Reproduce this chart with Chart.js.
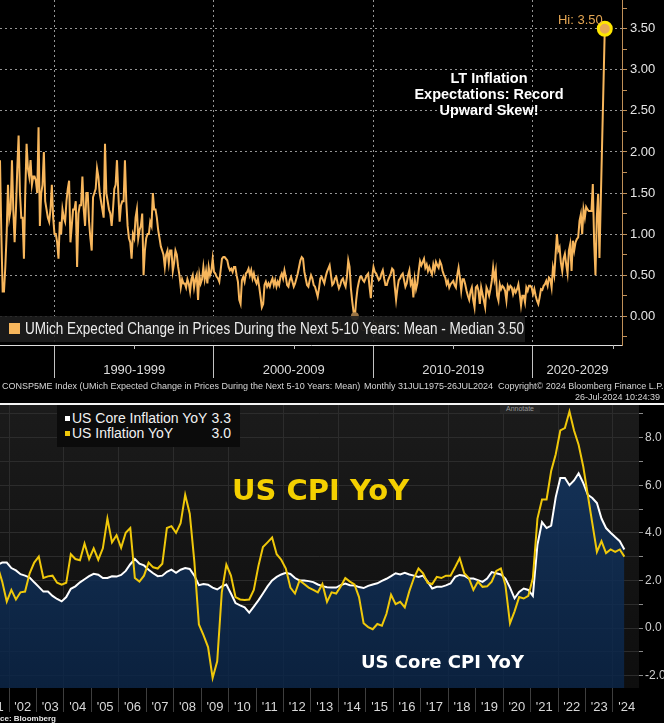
<!DOCTYPE html>
<html>
<head>
<meta charset="utf-8">
<script src="https://cdn.jsdelivr.net/npm/chart.js@4.4.1/dist/chart.umd.min.js"></script>
<style>
  html, body { margin: 0; padding: 0; background: #000; }
  body { width: 664px; height: 723px; position: relative; overflow: hidden; font-family: "Liberation Sans", Arial, sans-serif; }
  .abs { position: absolute; white-space: nowrap; }
  #topChart { position: absolute; left: 0; top: 0; }
  #cpiChart { position: absolute; left: 0; top: 405px; }
  .foot { font-size: 9px; color: #d6d6d6; top: 381px; }
  .lgRow { position: absolute; left: 0; width: 183px; height: 15px; line-height: 15px; font-size: 14px; color: #f2f2f2; }
  .lgSq { position: absolute; left: 8px; top: 5px; width: 5px; height: 5px; }
</style>
</head>
<body>
<canvas id="topChart" width="664" height="402"></canvas>
<canvas id="cpiChart" width="664" height="318"></canvas>

<!-- top chart overlays -->
<div class="abs" style="left:0;top:316px;width:525px;height:26px;background:rgba(30,30,30,0.88);">
  <div class="abs" style="left:9px;top:7px;width:11px;height:11px;background:#f7b65c;"></div>
  <span class="abs" style="left:25px;top:0;line-height:26px;font-size:16px;color:#ececec;transform:scaleX(0.845);transform-origin:0 50%;">UMich Expected Change in Prices During the Next 5-10 Years: Mean - Median 3.50</span>
</div>
<div class="abs" style="left:389px;top:70px;width:200px;text-align:center;font-weight:bold;font-size:14.5px;line-height:16px;color:#fff;white-space:normal;">LT Inflation<br>Expectations: Record<br>Upward Skew!</div>
<span class="abs foot" style="left:2px;">CONSP5ME Index (UMich Expected Change in Prices During the Next 5-10 Years: Mean)</span>
<span class="abs foot" style="left:364px;">Monthly 31JUL1975-26JUL2024</span>
<span class="abs foot" style="left:498px;">Copyright© 2024 Bloomberg Finance L.P.</span>
<span class="abs foot" style="left:575px;top:392px;">26-Jul-2024 10:24:39</span>

<div class="abs" style="left:0;top:403px;width:664px;height:2px;background:#f4f4f4;"></div>

<!-- bottom chart overlays -->
<div class="abs" style="left:57px;top:405px;width:183px;height:42px;background:#0b0b0b;">
  <div class="lgRow" style="top:6px;"><div class="lgSq" style="background:#fff;"></div><span style="position:absolute;left:15px;">US Core Inflation YoY</span><span style="position:absolute;right:9px;">3.3</span></div>
  <div class="lgRow" style="top:21px;"><div class="lgSq" style="background:#f0c80a;"></div><span style="position:absolute;left:15px;">US Inflation YoY</span><span style="position:absolute;right:9px;">3.0</span></div>
</div>
<div class="abs" style="left:500px;top:405px;width:40px;height:8px;background:#242424;font-size:7px;line-height:8px;color:#999;text-align:center;">Annotate</div>
<div class="abs" style="left:232px;top:473px;font-family:'DejaVu Sans';font-weight:bold;font-size:29px;color:#f4d000;">US CPI YoY</div>
<div class="abs" style="left:361px;top:651px;font-family:'DejaVu Sans';font-weight:bold;font-size:18px;color:#fff;">US Core CPI YoY</div>
<div class="abs" style="left:0;top:714px;font-size:8px;font-weight:bold;color:#e6e6e6;">ce: Bloomberg</div>

<script>
Chart.defaults.font.family = "Liberation Sans";

// UMich 5-10y expected price change, mean minus median, monthly from Aug 1986
const umichStart = 1986 + 7 / 12;
const umichSkew = [
    1.9, 1.0, 0.3, 0.3, 0.6, 1.0, 1.6, 1.2, 1.3, 1.9, 1.3, 0.9,
    1.3, 1.8, 2.2, 1.5, 1.2, 1.2, 0.7, 1.5, 2.1, 1.8, 1.7, 1.9,
    1.6, 1.7, 1.7, 1.65, 1.5, 2.3, 1.1, 1.5, 1.6, 2.0, 1.4, 1.3,
    1.2, 1.15, 1.3, 1.6, 1.2, 1.0, 1.0, 0.9, 0.7, 1.15, 1.0, 1.3,
    1.2, 1.15, 1.4, 1.55, 1.65, 0.9, 1.1, 1.3, 1.3, 1.4, 0.6, 1.25,
    1.35, 1.35, 1.7, 1.3, 1.1, 1.5, 1.5, 1.15, 0.95, 0.8, 1.45, 1.5,
    1.55, 1.8, 1.7, 1.5, 1.4, 1.3, 1.2, 2.1, 1.5, 1.4, 1.3, 1.25,
    1.1, 1.3, 1.55, 1.6, 1.9, 1.5, 1.15, 1.35, 1.4, 1.4, 1.9, 1.4,
    1.1, 0.95, 0.9, 0.7, 1.0, 0.95, 1.2, 1.3, 0.95, 1.05, 1.1, 1.25,
    0.5, 0.8, 0.95, 1.0, 1.0, 1.15, 1.1, 1.5, 1.3, 1.3, 1.2, 1.05,
    0.95, 0.85, 0.8, 0.75, 0.6, 0.75, 0.8, 0.65, 0.8, 0.8, 0.55, 0.65,
    0.8, 0.75, 0.6, 0.5, 0.35, 0.45, 0.4, 0.4, 0.35, 0.45, 0.4, 0.3,
    0.45, 0.5, 0.35, 0.45, 0.5, 0.2, 0.5, 0.4, 0.45, 0.6, 0.45, 0.55,
    0.4, 0.6, 0.5, 0.55, 0.7, 0.54, 0.52, 0.48, 0.46, 0.42, 0.56, 0.70,
    0.72, 0.72, 0.70, 0.68, 0.60, 0.56, 0.58, 0.54, 0.60, 0.60, 0.50, 0.42,
    0.2, 0.15, 0.44, 0.48, 0.42, 0.52, 0.54, 0.58, 0.50, 0.56, 0.46, 0.52,
    0.44, 0.40, 0.46, 0.36, 0.24, 0.11, 0.15, 0.38, 0.42, 0.36, 0.40, 0.36,
    0.42, 0.46, 0.38, 0.44, 0.36, 0.42, 0.38, 0.48, 0.52, 0.46, 0.56, 0.48,
    0.38, 0.36, 0.44, 0.48, 0.42, 0.36, 0.40, 0.46, 0.52, 0.60, 0.68, 0.72,
    0.70, 0.54, 0.46, 0.38, 0.36, 0.44, 0.50, 0.46, 0.38, 0.36, 0.30, 0.24,
    0.34, 0.46, 0.48, 0.44, 0.40, 0.48, 0.54, 0.58, 0.62, 0.50, 0.38, 0.40,
    0.46, 0.48, 0.40, 0.34, 0.38, 0.44, 0.46, 0.40, 0.36, 0.48, 0.68, 0.60,
    0.34, 0.18, 0.05, 0.0, 0.2, 0.34, 0.42, 0.48, 0.48, 0.44, 0.42, 0.46,
    0.50, 0.52, 0.36, 0.22, 0.48, 0.60, 0.54, 0.52, 0.48, 0.44, 0.46, 0.52,
    0.56, 0.46, 0.38, 0.38, 0.44, 0.48, 0.52, 0.58, 0.56, 0.36, 0.20, 0.34,
    0.44, 0.46, 0.50, 0.52, 0.44, 0.36, 0.40, 0.50, 0.56, 0.39, 0.43, 0.23,
    0.45, 0.33, 0.40, 0.55, 0.67, 0.62, 0.66, 0.70, 0.59, 0.63, 0.55, 0.60,
    0.55, 0.51, 0.63, 0.56, 0.66, 0.62, 0.59, 0.67, 0.63, 0.55, 0.50, 0.47,
    0.39, 0.43, 0.35, 0.39, 0.41, 0.43, 0.38, 0.35, 0.50, 0.59, 0.47, 0.31,
    0.45, 0.45, 0.39, 0.31, 0.25, 0.20, 0.30, 0.35, 0.20, 0.11, 0.35, 0.37,
    0.31, 0.15, 0.35, 0.27, 0.19, 0.11, 0.35, 0.31, 0.25, 0.33, 0.43, 0.59,
    0.45, 0.55, 0.25, 0.19, 0.39, 0.33, 0.37, 0.35, 0.31, 0.19, 0.37, 0.33,
    0.37, 0.35, 0.27, 0.33, 0.29, 0.33, 0.39, 0.27, 0.13, 0.25, 0.25, 0.17,
    0.35, 0.31, 0.37, 0.37, 0.35, 0.27, 0.33, 0.25, 0.19, 0.15, 0.23, 0.33,
    0.32, 0.37, 0.39, 0.43, 0.37, 0.47, 0.45, 0.35, 0.59, 0.50, 0.75, 1.0,
    0.8, 0.84, 0.65, 0.55, 0.70, 0.76, 0.63, 0.52, 0.80, 0.88, 0.55, 0.92,
    0.80, 0.90, 0.94, 0.96, 1.16, 1.24, 1.0, 1.30, 1.20, 1.33, 1.30, 1.28,
    1.28, 1.28, 1.61, 0.9, 0.5, 1.2, 1.49, 0.71, null, null, null, 3.5
];
const umichTicks = [-0.25, 0, 0.25, 0.5, 0.75, 1, 1.25, 1.5, 1.75, 2, 2.25, 2.5, 2.75, 3, 3.25, 3.5, 3.75];
const decadeStarts = [1990, 2000, 2010, 2020];
const decadeLabels = ["1990-1999", "2000-2009", "2010-2019", "2020-2029"];

// US CPI YoY, every other month from Aug 2001
const cpiStart = 2001 + 7 / 12;
const coreYoY = [
    2.66, 2.75, 2.75, 2.52, 2.42, 2.26, 2.2, 2.12, 1.92, 1.73,
    1.53, 1.53, 1.35, 1.22, 1.12, 1.3, 1.65, 1.75, 1.92, 2.05,
    2.18, 2.28, 2.24, 2.1, 2.1, 2.17, 2.16, 2.23, 2.4, 2.68,
    2.9, 2.7, 2.63, 2.45, 2.3, 2.18, 2.2, 2.36, 2.45, 2.32,
    2.45, 2.52, 2.48, 2.2, 1.8, 1.85, 1.82, 1.7, 1.62, 1.75,
    1.83, 1.45, 1.05, 0.95, 0.87, 0.65, 0.9, 1.16, 1.45, 1.75,
    2.0, 2.15, 2.25, 2.32, 2.27, 2.1, 2.0, 2.0, 1.97, 1.93,
    1.83, 1.76, 1.71, 1.7, 1.7, 1.8, 1.87, 1.8, 1.79, 1.72,
    1.68, 1.77, 1.83, 1.88, 1.98, 2.07, 2.18, 2.3, 2.25, 2.32,
    2.25, 2.2, 2.15, 2.2, 1.95, 1.66, 1.73, 1.73, 1.79, 1.87,
    2.15, 2.23, 2.2, 2.08, 2.08, 2.01, 1.94, 2.08, 2.35, 2.3,
    2.25, 2.08, 1.7, 1.25, 1.52, 1.66, 1.6, 1.35, 3.5, 4.45,
    4.2, 4.3, 5.5, 6.3, 6.3, 6.0, 6.2, 6.5, 6.1, 5.6,
    5.46, 5.25, 4.6, 4.2, 4.0, 3.82, 3.65, 3.3
];
const headlineYoY = [
    2.6, 1.95, 1.11, 1.6, 1.2, 1.5, 1.53, 2.3, 2.75, 3.0,
    2.1, 2.17, 2.2, 1.9, 1.82, 1.9, 3.1, 2.9, 2.85, 3.55,
    2.9, 3.35, 2.87, 3.35, 4.6, 3.6, 3.9, 3.37, 4.0, 4.2,
    2.1, 1.95, 2.2, 2.75, 2.55, 2.5, 2.7, 4.2, 4.28, 4.0,
    4.4, 5.6, 4.8, 2.8, 0.15, -0.3, -0.8, -2.1, -1.4, 1.5,
    2.66, 2.2, 1.3, 1.2, 1.18, 1.2, 1.6, 2.6, 3.4, 3.6,
    3.8, 3.1, 2.87, 2.5, 1.7, 1.45, 2.0, 1.85, 1.7, 1.6,
    1.5, 1.85, 1.1, 1.5, 1.45, 1.75, 2.1, 1.95, 1.83, 1.3,
    0.2, 0.04, -0.05, 0.17, 0.1, 0.6, 1.4, 1.0, 1.1, 0.87,
    1.55, 2.1, 2.5, 2.3, 1.9, 1.85, 2.15, 2.1, 2.2, 2.2,
    2.55, 2.93, 2.3, 2.1, 1.6, 1.95, 1.73, 1.75, 1.95, 2.4,
    2.5, 1.8, 0.2, 0.7, 1.3, 1.24, 1.35, 2.1, 4.6, 5.4,
    5.4, 6.6, 7.3, 8.3, 8.4, 9.1, 8.3, 7.7, 6.8, 5.6,
    4.4, 3.2, 3.65, 3.15, 3.3, 3.2, 3.3, 3.0
];
const cpiTicks = [-2, -1, 0, 1, 2, 3, 4, 5, 6, 7, 8, 9];
const yearLabels = ["'01", "'02", "'03", "'04", "'05", "'06", "'07", "'08", "'09", "'10", "'11", "'12",
    "'13", "'14", "'15", "'16", "'17", "'18", "'19", "'20", "'21", "'22", "'23", "'24"];

const present = umichSkew.filter(v => v !== null);
const hiIdx = umichSkew.indexOf(Math.max(...present));
const loIdx = umichSkew.indexOf(Math.min(...present));

const dashGrid = "rgba(175,175,175,0.85)";

// keep the plot area flush with the canvas edges
function noPad(s) {
    s.paddingTop = 0;
    s.paddingBottom = 0;
    s.paddingLeft = 0;
    s.paddingRight = 0;
}

const umichExtras = {
    id: "umichExtras",
    afterDatasetsDraw(chart) {
        const ctx = chart.ctx, x = chart.scales.x, area = chart.chartArea;
        ctx.save();
        // small mid-decade ticks
        ctx.strokeStyle = "#bbbbbb";
        ctx.lineWidth = 1;
        decadeStarts.forEach(d => {
            const px = Math.round(x.getPixelForValue(d + 5)) + 0.5;
            ctx.beginPath();
            ctx.moveTo(px, area.bottom);
            ctx.lineTo(px, area.bottom + 4);
            ctx.stroke();
        });
        // decade labels, centred on the visible part of each decade
        ctx.fillStyle = "#dcdcdc";
        ctx.font = "13px 'Liberation Sans'";
        ctx.textAlign = "center";
        ctx.textBaseline = "middle";
        decadeStarts.forEach((d, k) => {
            const a = Math.max(d, x.min), b = Math.min(d + 10, x.max);
            ctx.fillText(decadeLabels[k], x.getPixelForValue((a + b) / 2), area.bottom + 25);
        });
        // Hi / Lo labels
        const pts = chart.getDatasetMeta(0).data;
        const hi = pts[hiIdx], lo = pts[loIdx];
        ctx.textBaseline = "alphabetic";
        ctx.fillStyle = "#e4a653";
        ctx.textAlign = "right";
        ctx.fillText("Hi: " + umichSkew[hiIdx].toFixed(2), hi.x - 2, hi.y - 5);
        ctx.fillStyle = "#8a6a40";
        ctx.textAlign = "center";
        ctx.fillText("Lo: " + umichSkew[loIdx].toFixed(2), lo.x + 7, lo.y + 15);
        ctx.restore();
    }
};

new Chart(document.getElementById("topChart"), {
    type: "line",
    data: {
        datasets: [{
            data: umichSkew.map((v, i) => ({ x: umichStart + i / 12, y: v })),
            borderColor: "#f7b65c",
            borderWidth: 2,
            spanGaps: true,
            pointRadius: c => c.dataIndex === hiIdx ? 6.5 : c.dataIndex === loIdx ? 4 : 0,
            pointBackgroundColor: c => c.dataIndex === hiIdx ? "#e8aa55" : "#9a7444",
            pointBorderColor: c => c.dataIndex === hiIdx ? "#ffe600" : "#9a7444",
            pointBorderWidth: c => c.dataIndex === hiIdx ? 3 : 0
        }]
    },
    options: {
        responsive: false,
        animation: false,
        layout: { padding: 0, autoPadding: false },
        plugins: { legend: { display: false }, tooltip: { enabled: false } },
        scales: {
            x: {
                type: "linear",
                min: umichStart,
                max: 2025.58,
                afterBuildTicks: s => { s.ticks = decadeStarts.map(v => ({ value: v })); },
                afterFit: s => { s.height = 57; noPad(s); },
                ticks: { display: false, autoSkip: false },
                grid: { color: dashGrid, tickColor: "#c4c4c4", tickLength: 33, tickBorderDash: [] },
                border: { color: "#dedede", width: 1, dash: [2, 3] }
            },
            y: {
                position: "right",
                min: -0.35,
                max: 3.85,
                afterBuildTicks: s => { s.ticks = umichTicks.map(v => ({ value: v })); },
                afterFit: s => { s.width = 42; noPad(s); },
                ticks: {
                    color: "#e6e6e6",
                    font: { size: 13 },
                    padding: 3,
                    autoSkip: false,
                    callback: v => (Math.round(v * 100) % 50 === 0 && v >= 0) ? v.toFixed(2) : ""
                },
                grid: {
                    color: c => (c.tick && Math.round(c.tick.value * 100) % 50 === 0) ? dashGrid : "rgba(0,0,0,0)",
                    tickColor: "#c09058",
                    tickLength: 5,
                    tickBorderDash: []
                },
                border: { color: "#c09058", width: 1, dash: [2, 3] }
            }
        }
    },
    plugins: [umichExtras]
});

const cpiExtras = {
    id: "cpiExtras",
    beforeDraw(chart) {
        const ctx = chart.ctx, a = chart.chartArea;
        const g = ctx.createLinearGradient(0, a.top, 0, a.bottom);
        g.addColorStop(0, "#1b1b1b");
        g.addColorStop(1, "#0e0e0e");
        ctx.save();
        ctx.fillStyle = g;
        ctx.fillRect(a.left, a.top, a.right - a.left, a.bottom - a.top);
        ctx.restore();
    },
    afterDraw(chart) {
        const ctx = chart.ctx, x = chart.scales.x, a = chart.chartArea;
        ctx.save();
        ctx.fillStyle = "#d8d8d8";
        ctx.font = "13px 'Liberation Sans'";
        ctx.textAlign = "center";
        ctx.textBaseline = "middle";
        yearLabels.forEach((lbl, k) => {
            ctx.fillText(lbl, x.getPixelForValue(2001 + k + 0.5), a.bottom + 19);
        });
        ctx.restore();
    }
};

new Chart(document.getElementById("cpiChart"), {
    type: "line",
    data: {
        datasets: [{
            label: "US Core Inflation YoY",
            data: coreYoY.map((v, i) => ({ x: cpiStart + i / 6, y: v })),
            borderColor: "#ffffff",
            borderWidth: 2,
            pointRadius: 0,
            fill: "start",
            order: 2,
            backgroundColor: c => {
                const a = c.chart.chartArea;
                if (!a) return "rgba(16,48,92,0.8)";
                const g = c.chart.ctx.createLinearGradient(0, a.top, 0, a.bottom);
                g.addColorStop(0, "rgba(22,58,104,0.85)");
                g.addColorStop(1, "rgba(10,36,70,0.85)");
                return g;
            }
        }, {
            label: "US Inflation YoY",
            data: headlineYoY.map((v, i) => ({ x: cpiStart + i / 6, y: v })),
            borderColor: "#f0c80a",
            borderWidth: 2,
            pointRadius: 0,
            fill: false,
            order: 1
        }]
    },
    options: {
        responsive: false,
        animation: false,
        layout: { padding: 0, autoPadding: false },
        plugins: { legend: { display: false }, tooltip: { enabled: false } },
        scales: {
            x: {
                type: "linear",
                min: 2001.67,
                max: 2024.95,
                afterBuildTicks: s => {
                    s.ticks = yearLabels.map((_, k) => ({ value: 2001 + k })).filter(t => t.value >= s.min && t.value <= s.max);
                },
                afterFit: s => { s.height = 35; noPad(s); },
                ticks: { display: false, autoSkip: false },
                grid: {
                    color: c => (c.tick && c.tick.value % 2 === 0) ? "#2c2c2c" : "rgba(0,0,0,0)",
                    tickColor: "#3e3e3e",
                    tickLength: 24
                },
                border: { display: false }
            },
            y: {
                position: "right",
                min: -2.52,
                max: 9.37,
                afterBuildTicks: s => { s.ticks = cpiTicks.map(v => ({ value: v })); },
                afterFit: s => { s.width = 25; noPad(s); },
                ticks: {
                    color: "#cfcfcf",
                    font: { size: 12 },
                    padding: 2,
                    autoSkip: false,
                    callback: v => v % 2 === 0 ? v.toFixed(1) : ""
                },
                grid: { color: "#2c2c2c", tickColor: "#8a8a8a", tickLength: 4 },
                border: { display: false }
            }
        }
    },
    plugins: [cpiExtras]
});
</script>
</body>
</html>
